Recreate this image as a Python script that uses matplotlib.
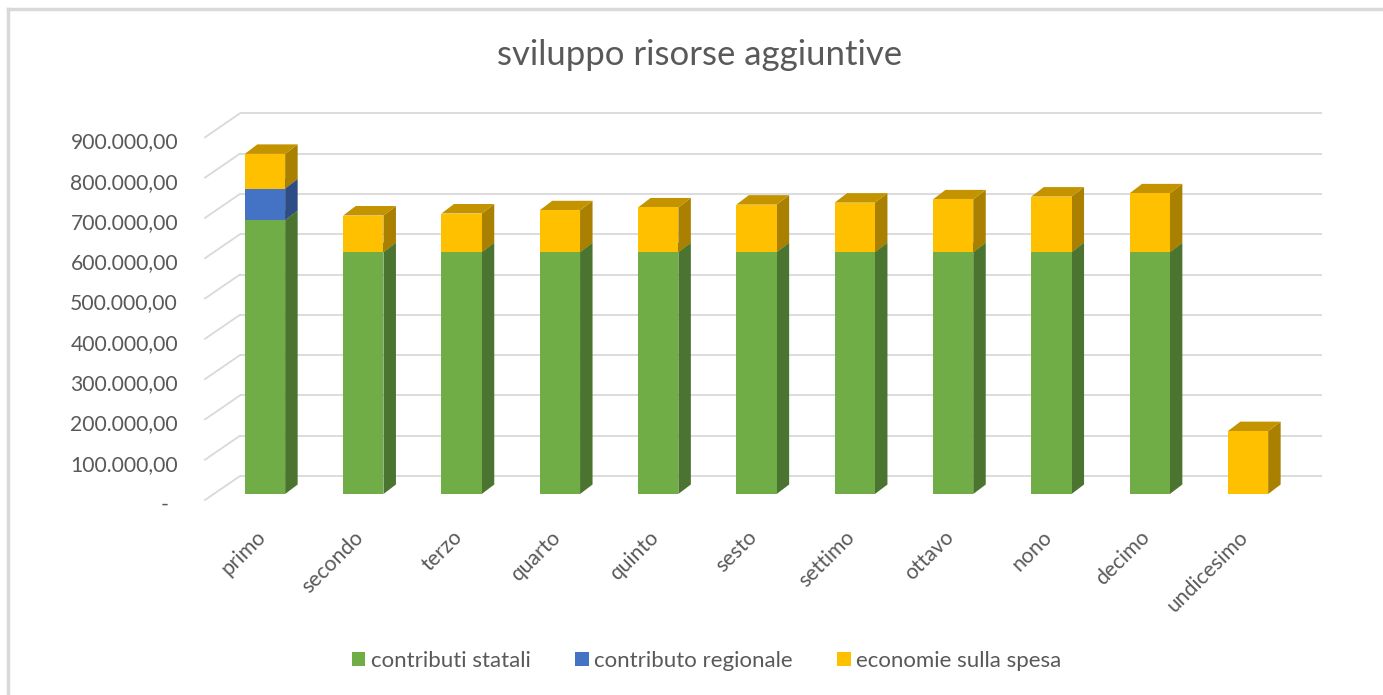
import matplotlib
matplotlib.use('Agg')
import matplotlib.pyplot as plt
from matplotlib.patches import Polygon, Patch
from matplotlib.lines import Line2D
import numpy as np

plt.rcParams['font.family'] = ['Lato', 'DejaVu Sans']

categories = ['primo', 'secondo', 'terzo', 'quarto', 'quinto', 'sesto',
              'settimo', 'ottavo', 'nono', 'decimo', 'undicesimo']
contributi_statali = [680000, 600000, 600000, 600000, 600000, 600000,
                      600000, 600000, 600000, 600000, 0]
contributo_regionale = [78000, 0, 0, 0, 0, 0, 0, 0, 0, 0, 0]
economie_spesa = [86000, 91000, 96000, 104000, 111000, 118000,
                  123000, 131000, 138000, 146000, 156000]
series_names = ['contributi statali', 'contributo regionale', 'economie sulla spesa']
y_ticks = [0, 100000, 200000, 300000, 400000, 500000, 600000, 700000, 800000, 900000]

# front, side, top colours per series
colors = [('#70AD47', '#4A7430', '#5E9A3A'),
          ('#4472C4', '#2E4C86', '#3A62A8'),
          ('#FFC000', '#AA8000', '#C49300')]

W, H = 1383, 695
fig = plt.figure(figsize=(W / 100, H / 100), dpi=100)

# axes box in pixels (from top-left)
ax_l, ax_r, ax_t, ax_b = 200, 1330, 100, 510
ax = fig.add_axes([ax_l / W, 1 - ax_b / H, (ax_r - ax_l) / W, (ax_b - ax_t) / H])
ax.set_axis_off()

step_px = 98.3        # pixels between categories
unit_px = 40.3        # pixels per 100.000
x0_px = 265           # centre of first bar
y0_px = 494           # zero of bar front plane
xlim = ((ax_l - x0_px) / step_px, (ax_r - x0_px) / step_px)
ylim = ((y0_px - ax_b) / unit_px * 1e5, (y0_px - ax_t) / unit_px * 1e5)
ax.set_xlim(*xlim)
ax.set_ylim(*ylim)

sx = 1 / step_px      # data units per pixel in x
sy = 1e5 / unit_px    # data units per pixel in y

# depth: full wall depth 35px right, 24px up; bars sit at 0.25..0.62 of it
full_dx, full_dy = 35, 24
bar_dx, bar_dy = 12.5 * sx, 9.5 * sy
back_dx, back_dy = 0.75 * full_dx * sx, 0.75 * full_dy * sy
front_dx, front_dy = -0.25 * full_dx * sx, -0.25 * full_dy * sy

x = np.arange(len(categories))
bw = 0.41
grid_c = '#D9D9D9'

# back wall gridlines and left wall diagonals
x_left_front = (205 - x0_px) * sx
x_right_back = (1322 - x0_px) * sx
for v in y_ticks:
    yb = v + back_dy
    ax.plot([x_left_front + full_dx * sx, x_right_back], [yb, yb],
            color=grid_c, lw=1.3, zorder=1, solid_capstyle='butt')
    ax.plot([x_left_front, x_left_front + full_dx * sx],
            [v + front_dy, yb], color=grid_c, lw=1.3, zorder=1)

# stacked 3D bars
stack = [contributi_statali, contributo_regionale, economie_spesa]
bottom = np.zeros(len(categories))
for s, vals in enumerate(stack):
    vals = np.array(vals, dtype=float)
    fc, sc, tc = colors[s]
    ax.bar(x, vals, bw, bottom=bottom, color=fc, zorder=3,
           edgecolor='none')
    for i in range(len(x)):
        if vals[i] <= 0:
            continue
        xr = x[i] + bw / 2
        xl = x[i] - bw / 2
        y_lo = bottom[i]
        y_hi = bottom[i] + vals[i]
        side = Polygon([(xr, y_lo), (xr + bar_dx, y_lo + bar_dy),
                        (xr + bar_dx, y_hi + bar_dy), (xr, y_hi)],
                       closed=True, facecolor=sc, edgecolor='none', zorder=2)
        ax.add_patch(side)
        top = Polygon([(xl, y_hi), (xl + bar_dx, y_hi + bar_dy),
                       (xr + bar_dx, y_hi + bar_dy), (xr, y_hi)],
                      closed=True, facecolor=tc, edgecolor='none', zorder=2)
        ax.add_patch(top)
    bottom = bottom + vals

# y tick labels on front-left edge
for v in y_ticks:
    if v == 0:
        lab = '-'
        xt = (168 - x0_px) * sx
    else:
        lab = f'{v:,.2f}'.replace(',', 'X').replace('.', ',').replace('X', '.')
        xt = (178 - x0_px) * sx
    ax.text(xt, v + front_dy - 5 * sy, lab, ha='right', va='center', fontsize=15.2,
            color='#595959', clip_on=False)

# category labels
for i, c in enumerate(categories):
    ax.text(x[i] - 0.1, (y0_px - 527) * sy, c, rotation=45, ha='right', va='top',
            rotation_mode='anchor', fontsize=15.2, color='#595959', clip_on=False)

fig.text(0.506, 1 - 55 / H, 'sviluppo risorse aggiuntive', ha='center', va='center',
         fontsize=25, color='#595959')

handles = [Patch(facecolor=colors[k][0], edgecolor='none') for k in range(3)]
fig.legend(handles, series_names, loc='center', bbox_to_anchor=(0.511, 1 - 661 / H),
           ncol=3, frameon=False, fontsize=16, handlelength=0.6, handleheight=0.6,
           handletextpad=0.25, columnspacing=2.0, labelcolor='#595959')

# chart area border (left and top visible)
fig.add_artist(Line2D([8 / W, 8 / W], [0, 1 - 9 / H], color='#D9D9D9', lw=2.5))
fig.add_artist(Line2D([8 / W, 1], [1 - 9 / H, 1 - 9 / H], color='#D9D9D9', lw=2.5))

fig.savefig('out.png', dpi=100, facecolor='white')
